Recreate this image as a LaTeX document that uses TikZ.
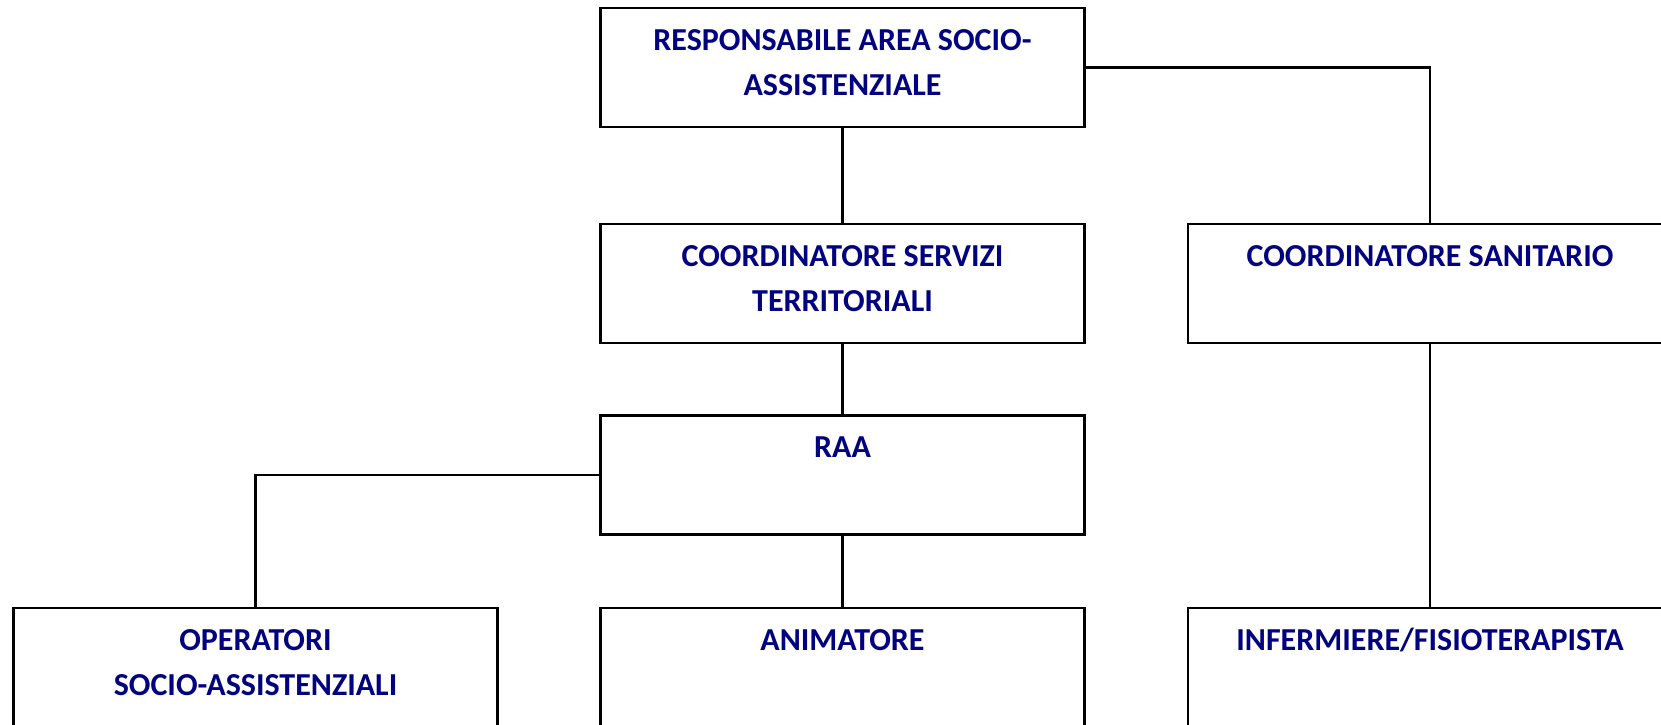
\documentclass[tikz,border=0pt]{standalone}
\usepackage{fontspec}
\setmainfont{Carlito}
\definecolor{navy}{RGB}{0,0,128}
\newcommand{\boxtext}[1]{\begin{tabular}[t]{@{}c@{}}#1\end{tabular}}
\tikzset{
  box/.style={draw,line width=1.6pt,minimum width=363pt,minimum height=89.25pt,inner sep=0pt,
    text height=31.5pt,text depth=57.75pt,text=navy,
    font=\fontsize{24}{34}\selectfont\bfseries},
  link/.style={line width=1.6pt}
}
\begin{document}
\begin{tikzpicture}[x=0.75pt,y=-0.75pt]
		\useasboundingbox (0,0) rectangle (1661,725);
		\node[box] (resp) at (842.5,67.5) {\boxtext{RESPONSABILE AREA SOCIO-\\ASSISTENZIALE}};
		\node[box] (coordserv) at (842.5,283.5) {\boxtext{COORDINATORE SERVIZI\\TERRITORIALI}};
		\node[box] (coordsan) at (1430,283.5) {COORDINATORE SANITARIO};
		\node[box] (raa) at (842.5,475) {RAA};
		\node[box] (oper) at (255.5,667.5) {\boxtext{OPERATORI\\SOCIO-ASSISTENZIALI}};
		\node[box] (anim) at (842.5,667.5) {ANIMATORE};
		\node[box] (inferm) at (1430,667.5) {INFERMIERE/FISIOTERAPISTA};
		\draw[link] (resp.east) -| (coordsan.north);
		\draw[link] (raa.west) -| (oper.north);
		\foreach \From/\To in {resp/coordserv,coordserv/raa,raa/anim,coordsan/inferm}
		\draw[link] (\From.south) -- (\To.north) ;
	\end{tikzpicture}
\end{document}
